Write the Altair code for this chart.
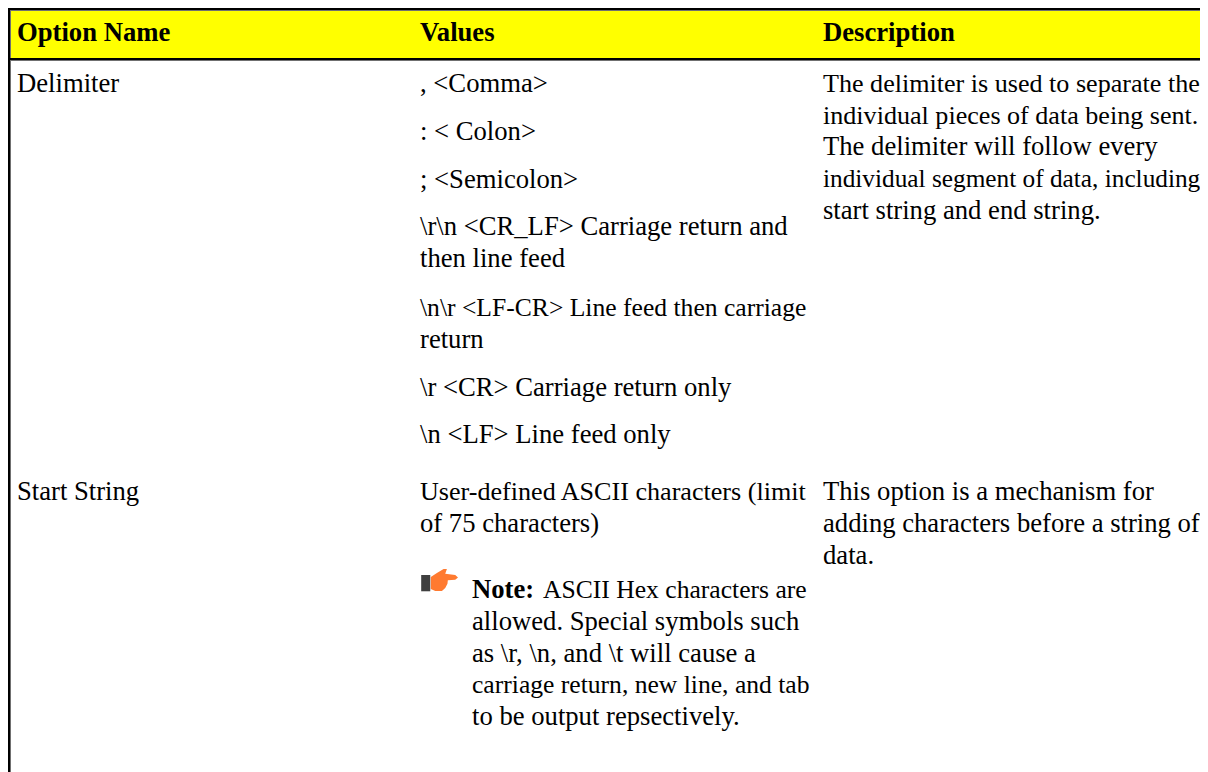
import altair as alt
import pandas as pd

# column text origins and line baselines, in table units
col_name, col_values, col_desc, col_note, col_note2 = 9, 412, 815, 464, 535

header_text = ["Option Name", "Values", "Description"]
header_col = [col_name, col_values, col_desc]
header_base = [33, 33, 33]

body_text = [
    "Delimiter", ", <Comma>", ": < Colon>", "; <Semicolon>",
    "\\r\\n <CR_LF> Carriage return and", "then line feed",
    "return",
    "\\r <CR> Carriage return only", "\\n <LF> Line feed only",
    "The delimiter will follow every",
    "start string and end string.",
    "Start String", "of 75 characters)",
    "This option is a mechanism for", "adding characters before a string of", "data.",
    "allowed. Special symbols such", "as \\r, \\n, and \\t will cause a",
    "to be output repsectively.",
]
body_col = [col_name, col_values, col_values, col_values, col_values, col_values,
            col_values, col_values, col_values,
            col_desc, col_desc,
            col_name, col_values,
            col_desc, col_desc, col_desc,
            col_note, col_note, col_note]
body_base = [84, 84, 132, 180, 227, 259, 340, 388, 435,
             147, 211,
             492, 524,
             492, 524, 556,
             622, 654, 717]

# lines the reference sets a little tighter than the natural width
tight_text = ["\\n\\r <LF-CR> Line feed then carriage", "carriage return, new line, and tab",
              "ASCII Hex characters are"]
tight_col = [col_values, col_note, col_note2]
tight_base = [308, 685, 590]

snug_text = ["User-defined ASCII characters (limit", "The delimiter is used to separate the",
             "individual pieces of data being sent."]
snug_col = [col_values, col_desc, col_desc]
snug_base = [492, 84, 116]

incl_text = ["individual segment of data, including"]
incl_col = [col_desc]
incl_base = [179]

note_text = ["Note:"]
note_col = [col_note]
note_base = [590]

W, H = 1192, 764
X = alt.X("x:Q", scale=alt.Scale(domain=[0, W], range=[0, W]), axis=None)
Y = alt.Y("y:Q", scale=alt.Scale(domain=[0, H], range=[0, H]), axis=None)
X2 = alt.X2("x2:Q")
Y2 = alt.Y2("y2:Q")

head_df = pd.DataFrame({"x": [2], "x2": [W], "y": [2], "y2": [51]})
header = alt.Chart(head_df).mark_rect(color="#ffff00").encode(x=X, x2=X2, y=Y, y2=Y2)

grey_df = pd.DataFrame({"x": [0, 0, 2], "x2": [W, W, 3], "y": [2, 52, 0], "y2": [3, 53, H]})
greys = alt.Chart(grey_df).mark_rect(color="#707070").encode(x=X, x2=X2, y=Y, y2=Y2)

rule_df = pd.DataFrame({"x": [0, 0, 0], "x2": [W, W, 2], "y": [0, 50, 0], "y2": [2, 52, H]})
rules = alt.Chart(rule_df).mark_rect(color="#000000").encode(x=X, x2=X2, y=Y, y2=Y2)

font = "Liberation Serif"


def text_layer(texts, xs, ys, size, weight="normal"):
    df = pd.DataFrame({"t": texts, "x": xs, "y": ys})
    return alt.Chart(df).mark_text(font=font, fontSize=size, fontWeight=weight, align="left",
                                   baseline="alphabetic", color="#000000").encode(x=X, y=Y, text="t:N")


FS = 26.67
layers = [
    header, greys, rules,
    text_layer(header_text, header_col, header_base, FS, "bold"),
    text_layer(body_text, body_col, body_base, FS),
    text_layer(tight_text, tight_col, tight_base, 25.6),
    text_layer(snug_text, snug_col, snug_base, 26.1),
    text_layer(incl_text, incl_col, incl_base, 25.3),
    text_layer(note_text, note_col, note_base, FS, "bold"),
]

# pointing-hand note icon
hand_path = ("M-.47,-.16 L-.14,-.38 L.22,-.59 L.40,-.59 L.31,-.34 L.85,-.27 L1,-.14 L.85,-.02 "
             "L.45,.02 L.43,.2 L.31,.43 L.13,.59 L-.23,.59 L-.47,.49 Z")
cuff_path = "M-.99,-.27 L-.5,-.27 L-.5,.61 L-.99,.61 Z"
icon_df = pd.DataFrame({"x": [431.5], "y": [572]})
layers.append(alt.Chart(icon_df).mark_point(shape=hand_path, size=1369, filled=True, color="#ff7a30",
                                            opacity=1, strokeWidth=0).encode(x=X, y=Y))
layers.append(alt.Chart(icon_df).mark_point(shape=cuff_path, size=1369, filled=True, color="#3f3f3f",
                                            opacity=1, strokeWidth=0).encode(x=X, y=Y))

chart = alt.layer(*layers).properties(
    width=W, height=H, padding=0, background="#ffffff",
    autosize=alt.AutoSizeParams(type="none"),
).configure_view(stroke=None)
chart.save("out.html", embed_options={"renderer": "svg", "actions": False})
